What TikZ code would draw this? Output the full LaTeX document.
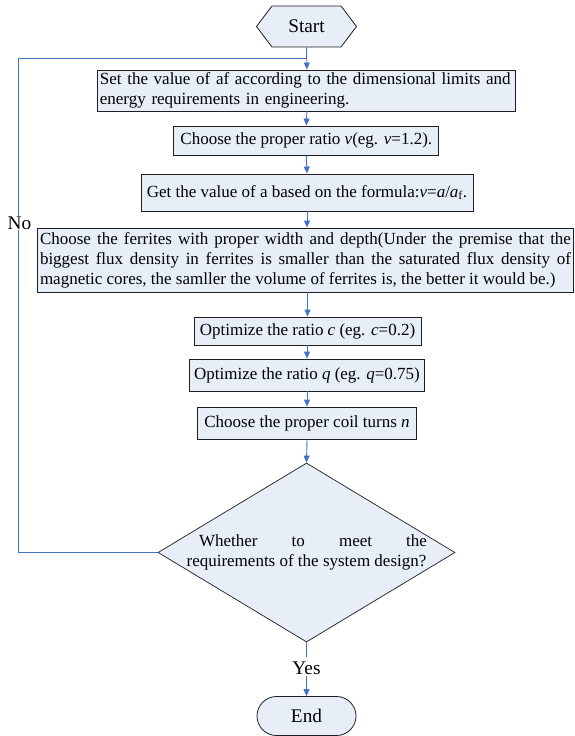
\documentclass[tikz,border=0pt]{standalone}
\usepackage{fontspec}
\setmainfont{Liberation Serif}
\usetikzlibrary{shapes.symbols,shapes.misc,shapes.geometric,arrows.meta}
\definecolor{boxfill}{RGB}{231,238,248}
\definecolor{flowblue}{RGB}{68,114,196}
\definecolor{boxline}{RGB}{30,30,30}
\tikzset{
  pbox/.style={draw=boxline, line width=0.9pt, fill=boxfill, inner sep=0pt,
    font=\fontsize{17}{20}\selectfont},
  term/.style={draw=boxline, line width=0.8pt, fill=boxfill, inner sep=0pt,
    font=\fontsize{19.3}{20}\selectfont},
  flow/.style={draw=flowblue, line width=0.9pt, -{Triangle[length=7pt,width=6pt]}},
  flowplain/.style={draw=flowblue, line width=0.9pt},
  lbl/.style={fill=white, inner sep=1pt, font=\fontsize{19.3}{20}\selectfont}
}
\begin{document}
\begin{tikzpicture}[x=1pt,y=-1pt]
\useasboundingbox (0,0) rectangle (575,736);
% terminals
\node[term, shape=signal, signal to=west and east, signal pointer angle=106,
  minimum width=100pt, minimum height=41pt] (start) at (306.5,26.5) {Start};
\node[term, shape=rounded rectangle, minimum width=99pt, minimum height=39pt] (end) at (306.5,716) {End};
% process boxes
\node[pbox, minimum width=418pt, minimum height=41pt, text width=414pt, align=left] (b1) at (306.9,90.5)
  {Set the value of af according to the dimensional limits and\\energy requirements in engineering.};
\node[pbox, minimum width=265pt, minimum height=29pt, align=center] (b2) at (306.3,140.5)
  {Choose the proper ratio \textit{v}(eg. \textit{v}=1.2).};
\node[pbox, minimum width=332pt, minimum height=37pt, align=center] (b3) at (307,192.5)
  {Get the value of a based on the formula:\textit{v}=\textit{a}/\textit{a}\textsubscript{f}.};
\node[pbox, minimum width=536pt, minimum height=64pt, text width=531pt, align=justify] (b4) at (305.5,260)
  {Choose the ferrites with proper width and depth(Under the premise that the\linebreak biggest flux density in ferrites is smaller than the saturated flux density of\linebreak magnetic cores, the samller the volume of ferrites is, the better it would be.)};
\node[pbox, minimum width=227pt, minimum height=28pt, align=center] (b5) at (307.5,331)
  {Optimize the ratio \textit{c} (eg. \textit{c}=0.2)};
\node[pbox, minimum width=235pt, minimum height=32pt, align=center] (b6) at (307,375)
  {Optimize the ratio \textit{q} (eg. \textit{q}=0.75)};
\node[pbox, minimum width=219pt, minimum height=32pt, align=center] (b7) at (307,423)
  {Choose the proper coil turns \textit{n}};
% decision
\node[draw=boxline, line width=0.7pt, fill=boxfill, shape=diamond, inner sep=0pt,
  minimum width=297pt, minimum height=179pt] (dec) at (306.5,552.5) {};
\node[font=\fontsize{17}{20}\selectfont, align=center, inner sep=0pt] (dtext) at (dec.center)
  {\hspace*{13pt}\makebox[228pt][s]{Whether\hfill to\hfill meet\hfill the}\\requirements of the system design?};
% connectors
\coordinate (jn) at (306.5,58);
\coordinate (lc) at (18.5,58);
\draw[flow] (start.south) -- (b1.north);
\draw[flow] (b1.south) -- (b2.north);
\draw[flow] (b2.south) -- (b3.north);
\draw[flow] (b3.south) -- (b4.north -| b3.south);
\draw[flow] (b4.south -| b5.north) -- (b5.north);
\draw[flow] (b5.south -| b6.north) -- (b6.north);
\draw[flow] (b6.south) -- (b7.north);
\draw[flow] (b7.south) -- (dec.north);
\draw[flowplain] (dec.west) -- (dec.west -| lc) -- (lc) -- (jn);
\node[lbl] (no) at (19.5,223) {No};
\draw[flowplain] (dec.south) -- (306.5,657);
\node[lbl] (yes) at (306.5,668) {Yes};
\draw[flow] (yes.south) -- (end.north);
\end{tikzpicture}
\end{document}
